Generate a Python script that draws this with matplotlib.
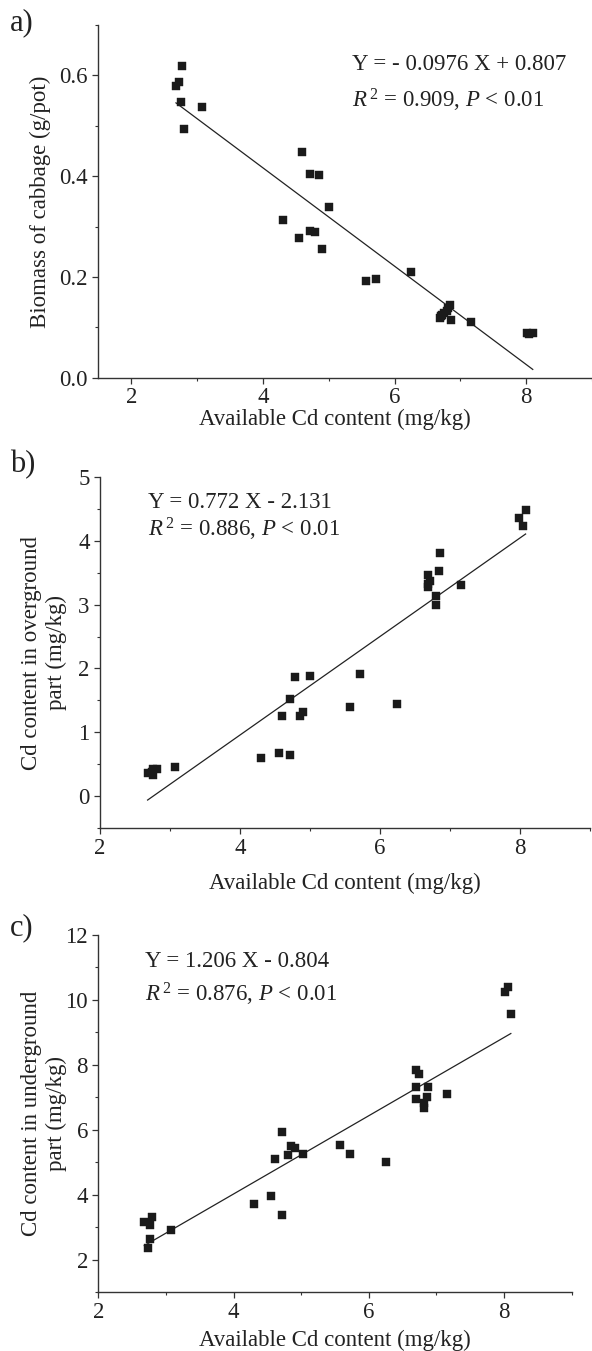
import matplotlib
matplotlib.use("Agg")
import matplotlib.pyplot as plt
from matplotlib.ticker import MultipleLocator

plt.rcParams['font.family'] = ['Liberation Serif', 'DejaVu Serif']
plt.rcParams['mathtext.fontset'] = 'custom'
plt.rcParams['mathtext.rm'] = 'Liberation Serif'
plt.rcParams['mathtext.it'] = 'Liberation Serif:italic'

# ---------------- data ----------------
# panel a: available Cd vs biomass
xa = [2.77, 2.73, 2.68, 2.76, 3.07, 2.80,
      4.60, 4.71, 4.85, 5.01, 4.30, 4.71, 4.79, 4.55, 4.90, 6.25, 5.57, 5.72,
      6.85, 6.80, 6.72, 6.69, 6.86, 7.16, 6.70, 6.75, 6.82, 8.01, 8.05, 8.10]
ya = [0.619, 0.587, 0.578, 0.548, 0.538, 0.494,
      0.448, 0.405, 0.402, 0.339, 0.313, 0.292, 0.290, 0.278, 0.256, 0.210, 0.191, 0.196,
      0.145, 0.132, 0.125, 0.118, 0.115, 0.111, 0.122, 0.128, 0.138, 0.088, 0.086, 0.088]

# panel b: available Cd vs overground Cd
xb = [2.68, 2.76, 2.81, 2.76, 2.74, 3.07,
      4.30, 4.55, 4.71, 4.60, 4.71, 4.79, 4.85, 4.90, 5.00, 5.57, 5.71, 6.24,
      7.15, 6.85, 6.84, 6.69, 6.71, 6.68, 6.69, 6.80, 6.80, 8.08, 7.99, 8.04]
yb = [0.36, 0.42, 0.42, 0.33, 0.38, 0.46,
      0.59, 0.67, 0.64, 1.25, 1.52, 1.87, 1.25, 1.32, 1.88, 1.39, 1.92, 1.45,
      3.30, 3.81, 3.52, 3.46, 3.37, 3.33, 3.27, 3.13, 3.00, 4.49, 4.35, 4.23]

# panel c: available Cd vs underground Cd
xc = [2.68, 2.76, 2.80, 2.77, 2.74, 3.07,
      4.30, 4.55, 4.72, 4.61, 4.72, 4.80, 4.85, 4.91, 5.02, 5.58, 5.72, 6.26,
      6.70, 6.74, 6.70, 6.87, 6.70, 6.86, 6.82, 6.81, 7.16, 8.06, 8.01, 8.10]
yc = [3.15, 3.07, 3.32, 2.62, 2.37, 2.90,
      3.71, 3.96, 3.36, 5.11, 5.92, 5.23, 5.50, 5.45, 5.24, 5.53, 5.26, 5.01,
      7.85, 7.73, 7.33, 7.33, 6.95, 7.01, 6.81, 6.67, 7.10, 10.39, 10.24, 9.57]

# regression coefficients (slope, intercept)
fit_a = (-0.0976, 0.807)
fit_b = (0.772, -2.131)
fit_c = (1.206, -0.804)

eq_a = ["Y = - 0.0976 X + 0.807", r"$R^{\,\mathrm{2}}$ = 0.909, $P$ < 0.01"]
eq_b = ["Y = 0.772 X - 2.131", r"$R^{\,\mathrm{2}}$ = 0.886, $P$ < 0.01"]
eq_c = ["Y = 1.206 X - 0.804", r"$R^{\,\mathrm{2}}$ = 0.876, $P$ < 0.01"]

xlabel = "Available Cd content (mg/kg)"
ylabels = ["Biomass of cabbage (g/pot)",
           "Cd content in overground\npart (mg/kg)",
           "Cd content in underground\npart (mg/kg)"]
panel_tags = ["a)", "b)", "c)"]

# ---------------- figure ----------------
W, H = 592, 1351
fig = plt.figure(figsize=(W / 100, H / 100), dpi=100)

def px_axes(l, r, t, b):
    return [l / W, 1 - b / H, (r - l) / W, (b - t) / H]

FS = 16.5
INK = '#222222'

specs = [
    dict(rect=px_axes(98.3, 592, 25, 377.7), x=xa, y=ya, fit=fit_a, eq=eq_a,
         xlim=(1.5, 9), ylim=(0, 0.7), ymaj=0.2, ymin=0.1, yfmt='{:.1f}',
         eqpos=(352, 70, 107), tag_y=30, xl_y=425, xl_cx=335, pad=2),
    dict(rect=px_axes(100, 590, 477, 828), x=xb, y=yb, fit=fit_b, eq=eq_b,
         xlim=(2, 9), ylim=(-0.5, 5), ymaj=1, ymin=0.5, yfmt='{:.0f}',
         eqpos=(148, 508, 537), tag_y=472, xl_y=889, xl_cx=345, pad=3),
    dict(rect=px_axes(98.3, 571.7, 935, 1292), x=xc, y=yc, fit=fit_c, eq=eq_c,
         xlim=(2, 9), ylim=(1, 12), ymaj=2, ymin=1, yfmt='{:.0f}',
         eqpos=(145, 967, 1002), tag_y=935, xl_y=1346, xl_cx=335, pad=3),
]

for i, s in enumerate(specs):
    ax = fig.add_axes(s['rect'])
    ax.plot(s['x'], s['y'], 's', ms=5.2, color='#1a1a1a', mec='#1a1a1a', mew=0.3,
            zorder=3, clip_on=False)
    m, c0 = s['fit']
    x0, x1 = min(s['x']), max(s['x'])
    ax.plot([x0, x1], [m * x0 + c0, m * x1 + c0], '-', color='#222222', lw=0.9)
    ax.set_xlim(*s['xlim'])
    ax.set_ylim(*s['ylim'])
    ax.xaxis.set_major_locator(MultipleLocator(2))
    ax.xaxis.set_minor_locator(MultipleLocator(1))
    ax.yaxis.set_major_locator(MultipleLocator(s['ymaj']))
    ax.yaxis.set_minor_locator(MultipleLocator(s['ymin']))
    fmt = s['yfmt']
    ax.yaxis.set_major_formatter(matplotlib.ticker.FuncFormatter(lambda v, p, f=fmt: f.format(v)))
    for sp in ['top', 'right']:
        ax.spines[sp].set_visible(False)
    for sp in ['left', 'bottom']:
        ax.spines[sp].set_color('#333333')
        ax.spines[sp].set_linewidth(1.0)
    ax.tick_params(which='major', direction='out', length=4.5, width=0.9,
                   color='#333333', labelsize=FS, labelcolor=INK, pad=3)
    ax.tick_params(axis='x', which='major', pad=s['pad'])
    ax.tick_params(which='minor', direction='out', length=2.5, width=0.8, color='#333333')
    ax.set_facecolor('none')

    ex, b1, b2 = s['eqpos']
    fig.text(ex / W, 1 - b1 / H, s['eq'][0], fontsize=FS, color=INK, va='baseline', ha='left')
    fig.text(ex / W, 1 - b2 / H, s['eq'][1], fontsize=FS, color=INK, va='baseline', ha='left')

    fig.text(s['xl_cx'] / W, 1 - s['xl_y'] / H, xlabel, fontsize=FS, color=INK,
             ha='center', va='baseline')
    yc_px = (1 - s['rect'][1] - s['rect'][3] / 2)
    if i == 0:
        fig.text(40 / W, 1 - yc_px, ylabels[i], fontsize=FS, color=INK, rotation=90,
                 ha='center', va='center')
    else:
        fig.text(44 / W, 1 - yc_px, ylabels[i], fontsize=FS, color=INK, rotation=90,
                 ha='center', va='center', linespacing=1.25, multialignment='center')
    fig.text(10 / W, 1 - s['tag_y'] / H, panel_tags[i], fontsize=22, color=INK,
             ha='left', va='baseline')

fig.savefig("out.png", dpi=100)
